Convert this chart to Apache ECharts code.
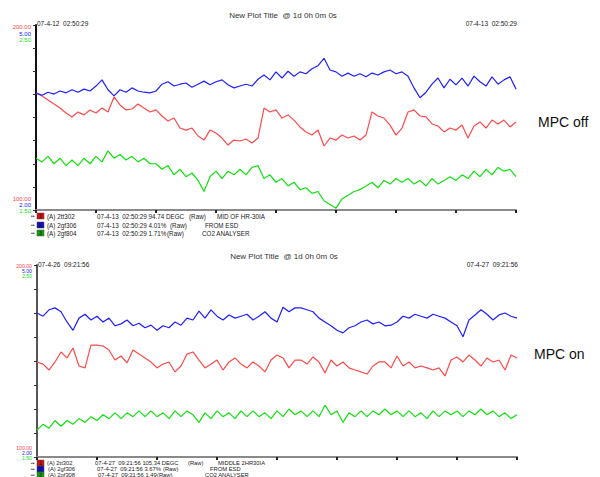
<!DOCTYPE html>
<html>
<head>
<meta charset="utf-8">
<script src="https://cdn.jsdelivr.net/npm/echarts@6/dist/echarts.min.js"></script>
<style>
  html, body { margin: 0; padding: 0; background: #fff; }
  #chart { width: 600px; height: 477px; }
</style>
</head>
<body>
<div id="chart"></div>
<script>
// 一天 24 小时，每 0.3 h 取一个点
const spanHours = 24;
const stepHours = 0.3;

// MPC off (07-4-12 ~ 07-4-13)
const offTemp = [163.2, 161.6, 159.5, 157.3, 155.1, 152.4, 150.3, 153.0, 151.4, 154.1, 152.4, 155.1, 153.0, 161.1, 156.8, 154.1,
  154.6, 157.3, 155.1, 153.0, 154.1, 150.8, 148.1, 149.7, 144.3, 143.2, 144.3, 140.0, 137.8, 143.2, 141.6, 138.9,
  135.1, 137.8, 137.3, 138.4, 136.2, 138.9, 155.1, 153.0, 154.1, 149.7, 151.4, 148.6, 144.9, 142.2, 140.5, 143.2,
  134.6, 138.9, 137.8, 140.5, 138.9, 140.0, 137.8, 140.5, 153.0, 150.8, 149.7, 145.9, 140.5, 144.3, 153.0, 154.1,
  150.8, 150.3, 146.5, 145.4, 142.2, 144.3, 143.2, 145.9, 138.9, 145.4, 147.6, 144.3, 148.6, 146.5, 148.6, 144.9, 147.6];
const offFlow = [3.90, 3.86, 3.91, 3.88, 3.93, 3.90, 3.95, 3.91, 3.96, 3.93, 4.01, 4.11, 3.95, 3.85, 3.95, 3.91,
  3.98, 3.93, 3.91, 3.90, 3.93, 4.04, 4.08, 4.01, 4.04, 4.06, 3.99, 4.04, 4.09, 4.03, 4.08, 4.11,
  4.03, 3.98, 4.01, 4.04, 4.01, 4.12, 4.19, 4.11, 4.24, 4.14, 4.25, 4.17, 4.24, 4.21, 4.29, 4.34,
  4.46, 4.27, 4.24, 4.17, 4.22, 4.17, 4.21, 4.16, 4.22, 4.19, 4.24, 4.27, 4.21, 4.24, 4.17, 3.98,
  3.82, 3.91, 4.04, 4.14, 3.98, 4.12, 4.03, 4.14, 4.01, 4.17, 4.08, 4.01, 4.16, 4.04, 4.11, 4.16, 3.96];
const offCo2 = [1.78, 1.76, 1.79, 1.75, 1.78, 1.74, 1.77, 1.74, 1.78, 1.75, 1.79, 1.76, 1.82, 1.78, 1.80, 1.77,
  1.79, 1.76, 1.78, 1.75, 1.75, 1.72, 1.74, 1.69, 1.72, 1.68, 1.70, 1.66, 1.60, 1.68, 1.71, 1.67,
  1.71, 1.69, 1.72, 1.69, 1.73, 1.74, 1.67, 1.69, 1.65, 1.67, 1.63, 1.65, 1.61, 1.62, 1.59, 1.60,
  1.55, 1.53, 1.51, 1.56, 1.58, 1.60, 1.61, 1.63, 1.65, 1.62, 1.66, 1.64, 1.67, 1.65, 1.67, 1.64,
  1.66, 1.63, 1.67, 1.64, 1.66, 1.68, 1.66, 1.69, 1.67, 1.71, 1.68, 1.72, 1.69, 1.73, 1.71, 1.72, 1.68];

// MPC on (07-4-26 ~ 07-4-27)
const onTemp = [149.5, 148.4, 145.3, 149.5, 154.7, 151.6, 156.8, 147.4, 146.4, 158.3, 158.3, 157.8, 155.7, 150.5, 152.6, 149.0,
  155.7, 153.6, 151.6, 149.5, 146.4, 148.4, 149.5, 144.3, 147.4, 153.6, 154.7, 150.5, 146.4, 148.4, 150.5, 145.3,
  149.5, 151.6, 148.4, 146.4, 149.5, 147.4, 144.3, 150.5, 153.1, 151.6, 146.4, 150.5, 150.5, 148.4, 152.1, 149.5,
  143.8, 150.5, 147.4, 149.5, 146.4, 145.3, 144.3, 143.2, 147.4, 149.5, 149.5, 146.4, 152.6, 147.4, 149.5, 146.4,
  147.4, 146.4, 145.3, 146.4, 142.2, 150.5, 152.1, 149.5, 153.1, 150.5, 147.4, 151.6, 149.5, 150.5, 145.3, 153.1, 151.6];
const onFlow = [4.25, 4.20, 4.30, 4.33, 4.27, 4.11, 3.98, 4.17, 4.23, 4.14, 4.20, 4.11, 4.17, 4.05, 4.08, 4.14,
  4.05, 4.09, 4.02, 4.06, 3.98, 4.05, 4.02, 4.11, 4.06, 4.17, 4.14, 4.28, 4.17, 4.30, 4.20, 4.14,
  4.22, 4.17, 4.20, 4.23, 4.14, 4.20, 4.27, 4.17, 4.11, 4.34, 4.27, 4.33, 4.33, 4.30, 4.27, 4.17,
  4.11, 4.05, 3.98, 3.94, 4.02, 4.05, 4.11, 4.14, 4.08, 4.11, 4.05, 4.06, 4.11, 4.20, 4.17, 4.23,
  4.20, 4.17, 4.23, 4.20, 4.17, 4.11, 4.05, 3.88, 4.14, 4.22, 4.30, 4.23, 4.14, 4.22, 4.25, 4.20, 4.17];
const onCo2 = [1.64, 1.67, 1.65, 1.69, 1.66, 1.69, 1.67, 1.70, 1.68, 1.71, 1.69, 1.72, 1.70, 1.73, 1.70, 1.73,
  1.71, 1.74, 1.71, 1.74, 1.71, 1.73, 1.70, 1.74, 1.71, 1.74, 1.72, 1.68, 1.73, 1.70, 1.74, 1.71,
  1.73, 1.70, 1.74, 1.71, 1.74, 1.71, 1.73, 1.70, 1.74, 1.71, 1.75, 1.72, 1.74, 1.71, 1.74, 1.71,
  1.77, 1.72, 1.74, 1.68, 1.73, 1.71, 1.74, 1.71, 1.74, 1.72, 1.75, 1.72, 1.74, 1.71, 1.74, 1.71,
  1.73, 1.70, 1.74, 1.71, 1.74, 1.72, 1.74, 1.71, 1.74, 1.72, 1.75, 1.72, 1.74, 1.71, 1.73, 1.70, 1.72];

// 量程：温度 / 流量 / CO2
const scaleMin = [100, 2, 1.5];
const scaleMax = [200, 5, 2.5];
const scaleMaxLabels = ["200.00", "5.00", "2.50"];
const scaleMinLabels = ["100.00", "2.00", "1.50"];

const penColors = ["#ff4a4a", "#2020ff", "#11e011"];
const boxColors = ["#d01010", "#1010c0", "#10a010"];
const plotTitle = "New Plot Title  @ 1d 0h 0m 0s";
const offDates = ["07-4-12  02:50:29", "07-4-13  02:50:29"];
const onDates = ["07-4-26  09:21:56", "07-4-27  09:21:56"];

const offLegend = [
  ["(A) 2tt302", "07-4-13  02:50:29 94.74 DEGC", "(Raw)", "MID OF HR-30IA"],
  ["(A) 2gf306", "07-4-13  02:50:29 4.01%", "(Raw)", "FROM ESD"],
  ["(A) 2gf804", "07-4-13  02:50:29 1.71%", "(Raw)", "CO2 ANALYSER"],
];
const onLegend = [
  ["(A) 2tt302", "07-4-27  09:21:56 105.34 DEGC", "(Raw)", "MIDDLE 2HR30IA"],
  ["(A) 2gf306", "07-4-27  09:21:56 3.67%", "(Raw)", "FROM ESD"],
  ["(A) 2gf308", "07-4-27  09:21:56 1.49", "(Raw)", "CO2 ANALYSER"],
];
const caseLabels = ["MPC off", "MPC on"];

const FONT = "Liberation Sans, Arial, sans-serif";

const toPoints = (arr) => arr.map((v, i) => [+(i * stepHours).toFixed(2), v]);

const chart = echarts.init(document.getElementById("chart"), null, { renderer: "svg" });

// 两个图区
const grids = [
  { left: 36, top: 25, width: 480, height: 185 },
  { left: 37, top: 265, width: 480, height: 192 },
];

const xAxes = grids.map((g, gi) => ({
  type: "value",
  gridIndex: gi,
  min: 0,
  max: spanHours,
  interval: 3,
  axisLine: { lineStyle: { color: "#8a8a8a", width: 2 } },
  axisTick: { length: 3, lineStyle: { color: "#222", width: 2 } },
  axisLabel: { show: false },
  splitLine: { show: false },
}));

const yAxes = [];
grids.forEach((g, gi) => {
  scaleMin.forEach((mn, k) => {
    const mx = scaleMax[k];
    yAxes.push({
      type: "value",
      gridIndex: gi,
      min: mn,
      max: mx,
      interval: (mx - mn) / 8,
      show: k === 0,
      position: "left",
      axisLine: { show: true, lineStyle: { color: gi === 0 ? "#111" : "#555", width: 2 } },
      axisTick: { show: true, length: 3, lineStyle: { color: "#333" } },
      axisLabel: { show: false },
      splitLine: { show: false },
    });
  });
});

const lineSeries = (name, data, gi, k) => ({
  name,
  type: "line",
  xAxisIndex: gi,
  yAxisIndex: gi * 3 + k,
  showSymbol: false,
  animation: false,
  lineStyle: { color: penColors[k], width: 1.2 },
  data: toPoints(data),
});

// 文字
const txt = (x, y, text, opt = {}) => ({
  type: "text",
  x,
  y,
  silent: true,
  style: {
    text,
    fill: opt.color || "#222",
    font: `${opt.size || 6.5}px ${FONT}`,
    align: opt.align || "left",
    verticalAlign: "middle",
  },
});

const graphics = [];

const plotHeader = (g, dates, titleY, dateY) => {
  graphics.push(txt(g.left + 247, titleY, plotTitle, { size: 8, align: "center", color: "#333" }));
  graphics.push(txt(g.left + 1, dateY, dates[0]));
  graphics.push(txt(g.left + g.width + 1, dateY, dates[1], { align: "right" }));
};

const scaleText = (g, topYs, botYs, size) => {
  scaleMaxLabels.forEach((t, k) =>
    graphics.push(txt(g.left - 5, topYs[k], t, { color: penColors[k], align: "right", size }))
  );
  scaleMinLabels.forEach((t, k) =>
    graphics.push(txt(g.left - 5, botYs[k], t, { color: penColors[k], align: "right", size }))
  );
};

const legendRows = (rows, ys, cols, size) => {
  rows.forEach((r, k) => {
    const y = ys[k];
    graphics.push(txt(31, y, "••", { size: 5, color: "#333" }));
    graphics.push({
      type: "rect",
      silent: true,
      shape: { x: 37, y: y - 3, width: 7, height: 6 },
      style: { fill: boxColors[k], stroke: "#444", lineWidth: 0.5 },
    });
    graphics.push(txt(40.5, y, String(k + 1), { size: 5, color: "#111", align: "center" }));
    r.forEach((t, c) => graphics.push(txt(cols[k][c], y, t, { size })));
  });
};

plotHeader(grids[0], offDates, 15, 23);
plotHeader(grids[1], onDates, 256, 264);
scaleText(grids[0], [27, 34, 40], [199, 205, 211], 6);
scaleText(grids[1], [266, 271, 276], [447.5, 452.5, 457.5], 5.2);
legendRows(offLegend, [216, 225, 233], [[47, 97, 189, 217], [47, 97, 170, 205], [47, 97, 167, 202]], 6.3);
legendRows(onLegend, [463, 469, 475], [[47, 95, 188, 218], [48, 97, 163, 210], [48, 98, 157, 205]], 5.8);
graphics.push(txt(538, 122, caseLabels[0], { size: 14, color: "#111" }));
graphics.push(txt(534, 354, caseLabels[1], { size: 14, color: "#111" }));

const option = {
  backgroundColor: "#fff",
  animation: false,
  grid: grids,
  xAxis: xAxes,
  yAxis: yAxes,
  series: [
    lineSeries("2tt302 off", offTemp, 0, 0),
    lineSeries("2gf306 off", offFlow, 0, 1),
    lineSeries("2gf804 off", offCo2, 0, 2),
    lineSeries("2tt302 on", onTemp, 1, 0),
    lineSeries("2gf306 on", onFlow, 1, 1),
    lineSeries("2gf308 on", onCo2, 1, 2),
  ],
  graphic: graphics,
};

chart.setOption(option);

window.addEventListener("resize", () => {
  chart.resize();
});
</script>
</body>
</html>
